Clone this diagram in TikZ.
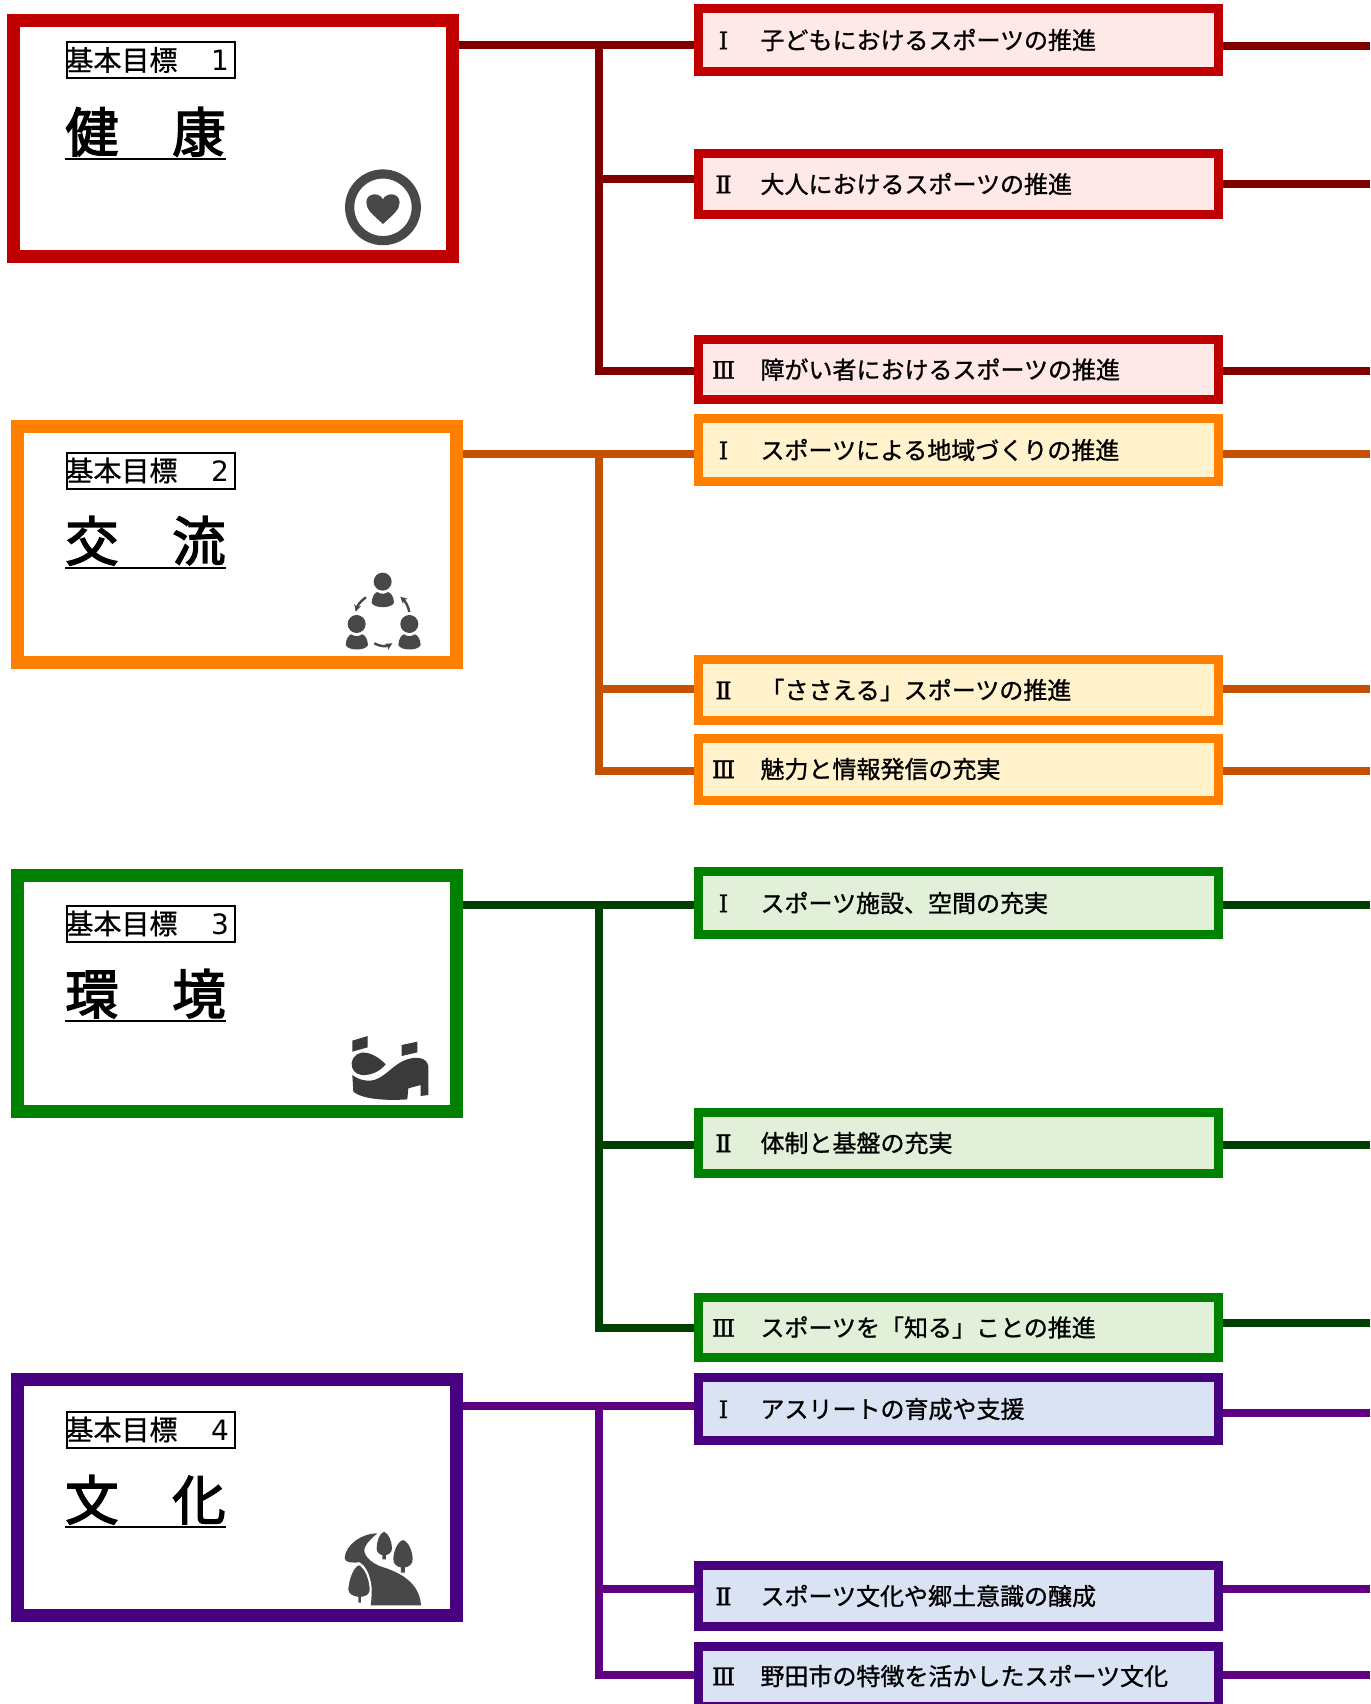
\documentclass[tikz,border=0pt]{standalone}
\usepackage{fontspec}
\setmainfont{Noto Sans CJK JP}
\newfontfamily\medf[FakeBold=1]{Noto Sans CJK JP}
\newfontfamily\titf[FakeBold=2.6]{Noto Sans CJK JP}
\newfontfamily\tagf[FakeBold=0.8]{Noto Sans CJK JP}
\newfontfamily\numf[FakeBold=1.2]{DejaVu Serif}
\newfontfamily\digf{DejaVu Sans}
\usetikzlibrary{arrows.meta}
\definecolor{redB}{HTML}{C00000}\definecolor{redL}{HTML}{800000}\definecolor{redF}{HTML}{FFE8E8}
\definecolor{oraB}{HTML}{FF8000}\definecolor{oraL}{HTML}{C55000}\definecolor{oraF}{HTML}{FFF2CC}
\definecolor{greB}{HTML}{008000}\definecolor{greL}{HTML}{004000}\definecolor{greF}{HTML}{E2F0D9}
\definecolor{purB}{HTML}{460080}\definecolor{purL}{HTML}{5F0080}\definecolor{purF}{HTML}{DAE3F3}
\definecolor{iconG}{HTML}{484848}
\newcommand{\rtxt}[2]{\hspace{5pt}\makebox[40pt][c]{\numf\fontsize{24}{24}\selectfont #1}\hspace{17pt}#2}
\newcommand{\tagtxt}[1]{\raisebox{1pt}{\hspace{-1.5pt}基本目標　\hspace{5.5pt}{\digf #1}}}
\tikzset{
  goalbox/.style={draw=#1,line width=13pt,fill=white,minimum width=439pt,minimum height=236pt,inner sep=0pt},
  subbox/.style={draw=#1,line width=9pt,text width=520pt,inner sep=0pt,align=left,font=\fontsize{24}{26}\selectfont\medf},
  subred/.style={subbox=redB,fill=redF},
  subora/.style={subbox=oraB,fill=oraF},
  subgre/.style={subbox=greB,fill=greF},
  subpur/.style={subbox=purB,fill=purF},
  tag/.style={draw=black,line width=2pt,text width=168pt,minimum height=36pt,inner sep=0pt,anchor=west,align=left,font=\fontsize{28}{30}\selectfont\tagf},
  bigt/.style={inner sep=0pt,anchor=base west,font=\fontsize{53.5}{56}\selectfont\titf},
  under/.style={black,line width=2pt},
  conn/.style={line width=8pt,#1},
  ico/.style={x=0.3333pt,y=-0.3333pt}
}
\begin{document}
\begin{tikzpicture}[x=1pt,y=-1pt]
\useasboundingbox (0,0) rectangle (1370,1704);
% goal boxes
\node[goalbox=redB] (g1) at (233,138.5) {};
\node[goalbox=oraB] (g2) at (237,544) {};
\node[goalbox=greB] (g3) at (237,993) {};
\node[goalbox=purB] (g4) at (237,1497) {};
% tags
\node[tag] (t1) at (66,60) {\tagtxt{1}};
\node[tag] (t2) at (66,470.5) {\tagtxt{2}};
\node[tag] (t3) at (66,923.5) {\tagtxt{3}};
\node[tag] (t4) at (66,1429.5) {\tagtxt{4}};
% big titles
\node[bigt] (h1) at (65,152) {健　康};
\node[bigt] (h2) at (65,561) {交　流};
\node[bigt] (h3) at (65,1014) {環　境};
\node[bigt] (h4) at (65,1520) {文　化};
\foreach \n in {1,2,3,4}{\draw[under] ([yshift=-7pt]h\n.base west) -- ([yshift=-7pt]h\n.base east);}
% sub boxes
\node[subred,minimum height=63pt] (r1) at (958.5,40) {\rtxt{Ⅰ}{子どもにおけるスポーツの推進}};
\node[subred,minimum height=61pt] (r2) at (958.5,184) {\rtxt{Ⅱ}{大人におけるスポーツの推進}};
\node[subred,minimum height=60pt] (r3) at (958.5,369.5) {\rtxt{Ⅲ}{障がい者におけるスポーツの推進}};
\node[subora,minimum height=63pt] (r4) at (958.5,450) {\rtxt{Ⅰ}{スポーツによる地域づくりの推進}};
\node[subora,minimum height=61pt] (r5) at (958.5,690) {\rtxt{Ⅱ}{「ささえる」スポーツの推進}};
\node[subora,minimum height=62pt] (r6) at (958.5,769) {\rtxt{Ⅲ}{魅力と情報発信の充実}};
\node[subgre,minimum height=63pt] (r7) at (958.5,903) {\rtxt{Ⅰ}{スポーツ施設、空間の充実}};
\node[subgre,minimum height=61pt] (r8) at (958.5,1143) {\rtxt{Ⅱ}{体制と基盤の充実}};
\node[subgre,minimum height=60pt] (r9) at (958.5,1327.5) {\rtxt{Ⅲ}{スポーツを「知る」ことの推進}};
\node[subpur,minimum height=63pt] (r10) at (958.5,1409) {\rtxt{Ⅰ}{アスリートの育成や支援}};
\node[subpur,minimum height=61pt] (r11) at (958.5,1596) {\rtxt{Ⅱ}{スポーツ文化や郷土意識の醸成}};
\node[subpur,minimum height=60pt] (r12) at (958.5,1676) {\rtxt{Ⅲ}{野田市の特徴を活かしたスポーツ文化}};
% junction heights and free ends
\foreach \n/\yl/\yr in {1/45.5/46,2/179/184,3/371/371,4/454/454,5/689/689,6/771/771,7/905/905,8/1145/1145,9/1328/1323,10/1405.5/1412.5,11/1588.5/1588.5,12/1675/1675}{
  \coordinate (jl\n) at (0,\yl);
  \coordinate (e\n) at (1370,\yr);
}
\coordinate (tk) at (599,0);
% connectors
\draw[conn=redL] (g1.east|-jl1) -- (r1.west|-jl1);
\draw[conn=redL] (tk|-jl1) -- (tk|-jl3) -- (r3.west|-jl3);
\draw[conn=redL] (tk|-jl2) -- (r2.west|-jl2);
\draw[conn=oraL] (g2.east|-jl4) -- (r4.west|-jl4);
\draw[conn=oraL] (tk|-jl4) -- (tk|-jl6) -- (r6.west|-jl6);
\draw[conn=oraL] (tk|-jl5) -- (r5.west|-jl5);
\draw[conn=greL] (g3.east|-jl7) -- (r7.west|-jl7);
\draw[conn=greL] (tk|-jl7) -- (tk|-jl9) -- (r9.west|-jl9);
\draw[conn=greL] (tk|-jl8) -- (r8.west|-jl8);
\draw[conn=purL] (g4.east|-jl10) -- (r10.west|-jl10);
\draw[conn=purL] (tk|-jl10) -- (tk|-jl12) -- (r12.west|-jl12);
\draw[conn=purL] (tk|-jl11) -- (r11.west|-jl11);
\foreach \n in {1,2,3}{\draw[conn=redL] (r\n.east|-e\n) -- (e\n);}
\foreach \n in {4,5,6}{\draw[conn=oraL] (r\n.east|-e\n) -- (e\n);}
\foreach \n in {7,8,9}{\draw[conn=greL] (r\n.east|-e\n) -- (e\n);}
\foreach \n in {10,11,12}{\draw[conn=purL] (r\n.east|-e\n) -- (e\n);}
% heart icon
\begin{scope}[ico]
\draw[iconG,line width=9.2pt] (1149,622) circle[radius=100];
\fill[iconG] (1149,672) .. controls (1120,645) and (1099,630) .. (1099,608) .. controls (1099,590) and (1112,583) .. (1124,583) .. controls (1136,583) and (1145,590) .. (1149,598) .. controls (1153,590) and (1162,583) .. (1174,583) .. controls (1186,583) and (1199,590) .. (1199,608) .. controls (1199,630) and (1178,645) .. (1149,672) -- cycle;
\end{scope}
% people icon
\begin{scope}[shift={(320,550)},ico]
\foreach \dx/\dy in {0/0,-78/127,80/127}{
\begin{scope}[shift={(\dx,\dy)}]
\fill[iconG] (188,95) circle[radius=27];
\fill[iconG] (155,158) .. controls (156,138) and (165,128) .. (172,126) .. controls (180,133) and (196,133) .. (204,126) .. controls (212,128) and (221,138) .. (222,158) .. controls (215,176) and (162,176) .. (155,158) -- cycle;
\end{scope}}
\draw[iconG,line width=2.4pt,-{Stealth[length=7pt,width=7pt]}] (138,142) .. controls (125,150) and (113,165) .. (107,185);
\draw[iconG,line width=2.4pt,-{Stealth[length=7pt,width=7pt]}] (163,280) .. controls (180,290) and (200,290) .. (217,280);
\draw[iconG,line width=2.4pt,-{Stealth[length=7pt,width=7pt]}] (268,186) .. controls (265,170) and (257,155) .. (241,140);
\end{scope}
% stadium icon
\begin{scope}[shift={(320,1010)},ico]
\fill[iconG!80!black] (97,92) -- (143,78) -- (143,112) -- (97,125) -- cycle;
\fill[iconG!80!black] (245,105) -- (292,95) -- (292,127) -- (245,138) -- cycle;
\fill[iconG!80!black] (95,160) .. controls (98,135) and (120,125) .. (135,128) .. controls (160,130) and (185,150) .. (197,163) .. controls (180,185) and (150,197) .. (125,195) .. controls (105,192) and (94,178) .. (95,160) -- cycle;
\fill[iconG!80!black] (97,195) .. controls (120,212) and (150,218) .. (175,205) .. controls (205,190) and (225,160) .. (262,148) .. controls (285,140) and (322,140) .. (325,170) -- (325,255) -- (302,258) -- (302,225) -- (265,235) -- (262,268) .. controls (210,272) and (130,270) .. (100,245) -- cycle;
\end{scope}
% park icon
\begin{scope}[shift={(320,1510)},ico]
\fill[iconG] (172,70) .. controls (125,70) and (75,105) .. (74,145) .. controls (76,160) and (100,158) .. (120,157) .. controls (150,175) and (160,240) .. (152,286) -- (303,286) .. controls (300,235) and (265,195) .. (190,172) .. controls (150,160) and (125,130) .. (135,112) .. controls (142,95) and (155,85) .. (172,70) -- cycle;
\fill[iconG,draw=white,line width=2pt] (116,162) .. controls (95,170) and (82,215) .. (82,240) .. controls (82,255) and (100,262) .. (112,263) -- (112,281) -- (126,281) -- (126,263) .. controls (140,262) and (152,255) .. (152,240) .. controls (152,215) and (140,170) .. (116,162) -- cycle;
\fill[iconG] (192,65) .. controls (178,70) and (170,95) .. (170,115) .. controls (170,128) and (180,134) .. (187,135) -- (187,148) -- (198,148) -- (198,135) .. controls (205,134) and (216,128) .. (216,115) .. controls (216,95) and (206,70) .. (192,65) -- cycle;
\fill[iconG] (249,90) .. controls (232,95) and (220,125) .. (220,148) .. controls (220,163) and (232,171) .. (243,172) -- (243,188) -- (255,188) -- (255,172) .. controls (266,171) and (278,163) .. (278,148) .. controls (278,125) and (266,95) .. (249,90) -- cycle;
\end{scope}
\end{tikzpicture}
\end{document}
